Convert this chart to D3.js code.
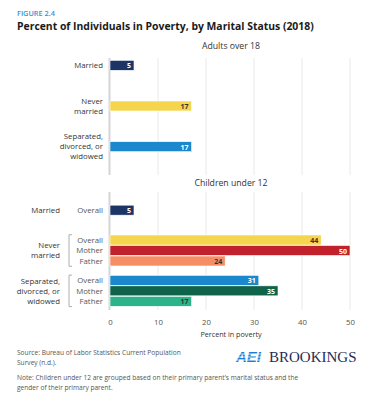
<!DOCTYPE html>
<html lang="en">
<head>
<meta charset="UTF-8">
<title>Percent of Individuals in Poverty, by Marital Status (2018)</title>
<script src="https://cdn.jsdelivr.net/npm/d3@7"></script>
<style>
    body { margin: 0; background: #fff; }
    svg text { font-family: "Open Sans", "Liberation Sans", sans-serif; }
</style>
</head>
<body>
<div id="chart"></div>
<script>
    // data
    const adultCategories = ["Married", "Never married", "Separated, divorced, or widowed"]
    const adultValues = [5, 17, 17]
    const adultColors = ["#1c3565", "#f5d54e", "#1b87cc"]

    const childCategories = ["Married", "Never married", "Separated, divorced, or widowed"]
    const childSubgroups = [["Overall"], ["Overall", "Mother", "Father"], ["Overall", "Mother", "Father"]]
    const childValues = [[5], [44, 50, 24], [31, 35, 17]]
    const childColors = [["#1c3565"], ["#f5d54e", "#c1212b", "#f68e65"], ["#1b87cc", "#0f634a", "#2db38a"]]

    // label lines for categories
    const categoryLines = {
        "Married": ["Married"],
        "Never married": ["Never", "married"],
        "Separated, divorced, or widowed": ["Separated,", "divorced, or", "widowed"]
    }
    const darkLabelColors = ["#f5d54e", "#f68e65", "#2db38a"]

    const xTicks = [0, 10, 20, 30, 40, 50]

    const width = 371, height = 400

    const svg = d3.select("#chart").append("svg")
        .attr("width", width)
        .attr("height", height)

    const x = d3.scaleLinear().domain([0, 50]).range([110, 350])

    // header
    svg.append("text").attr("x", 17).attr("y", 16)
        .attr("font-size", 7.3).attr("fill", "#3a8fd8").attr("font-weight", 600)
        .text("FIGURE 2.4")
    svg.append("text").attr("x", 17).attr("y", 29.5)
        .attr("font-size", 10.4).attr("font-weight", 700).attr("fill", "#1a1a1a")
        .text("Percent of Individuals in Poverty, by Marital Status (2018)")

    const rowStep = 10.5, barH = 9

    function drawGrid(y0, y1) {
        const g = svg.append("g")
        g.selectAll("line.grid").data(xTicks.slice(1)).join("line")
            .attr("x1", d => x(d)).attr("x2", d => x(d))
            .attr("y1", y0).attr("y2", y1)
            .attr("stroke", "#ebe9e2").attr("stroke-width", 1)
        g.append("line")
            .attr("x1", x(0) - 0.5).attr("x2", x(0) - 0.5)
            .attr("y1", y0).attr("y2", y1)
            .attr("stroke", "#d4d4d4").attr("stroke-width", 2)
    }

    function barLabel(g, v, yc, color) {
        g.append("text")
            .attr("x", x(v) - 3).attr("y", yc + 3)
            .attr("text-anchor", "end")
            .attr("font-size", 7).attr("font-weight", 700)
            .attr("fill", darkLabelColors.includes(color) ? "#333" : "#fff")
            .text(v)
    }

    // adults panel
    drawGrid(58, 175)
    svg.append("text").attr("x", 231).attr("y", 49)
        .attr("text-anchor", "middle").attr("font-size", 8.7).attr("fill", "#333")
        .text("Adults over 18")

    const yA = d3.scaleBand().domain(adultCategories).range([45, 167])

    const gA = svg.append("g")
    adultCategories.forEach((c, i) => {
        const yc = yA(c) + yA.bandwidth() / 2
        gA.append("rect")
            .attr("x", x(0)).attr("y", yc - barH / 2 - 0.5)
            .attr("width", x(adultValues[i]) - x(0)).attr("height", barH + 1)
            .attr("fill", adultColors[i])
            .attr("stroke", "#fff").attr("stroke-width", 0.6)
        barLabel(gA, adultValues[i], yc, adultColors[i])
        const lines = categoryLines[c]
        lines.forEach((t, j) => {
            gA.append("text")
                .attr("x", 103).attr("y", yc + 2.7 + (j - (lines.length - 1) / 2) * 10)
                .attr("text-anchor", "end").attr("font-size", 7.8).attr("fill", "#333")
                .text(t)
        })
    })

    // children panel
    drawGrid(192, 310)
    svg.append("text").attr("x", 231).attr("y", 186)
        .attr("text-anchor", "middle").attr("font-size", 8.7).attr("fill", "#333")
        .text("Children under 12")

    const yC = d3.scaleBand().domain(childCategories).range([190, 311])

    const gC = svg.append("g")
    childCategories.forEach((c, i) => {
        const center = yC(c) + yC.bandwidth() / 2
        const subs = childSubgroups[i]
        subs.forEach((s, k) => {
            const yc = center + (k - (subs.length - 1) / 2) * rowStep
            gC.append("rect")
                .attr("x", x(0)).attr("y", yc - barH / 2 - 0.5)
                .attr("width", x(childValues[i][k]) - x(0)).attr("height", barH + 1)
                .attr("fill", childColors[i][k])
                .attr("stroke", "#fff").attr("stroke-width", 0.6)
            barLabel(gC, childValues[i][k], yc, childColors[i][k])
            gC.append("text")
                .attr("x", 103).attr("y", yc + 2.7)
                .attr("text-anchor", "end").attr("font-size", 7.8).attr("fill", "#555")
                .text(s)
        })
        const lines = categoryLines[c]
        lines.forEach((t, j) => {
            gC.append("text")
                .attr("x", 60).attr("y", center + 2.7 + (j - (lines.length - 1) / 2) * 10)
                .attr("text-anchor", "end").attr("font-size", 7.8).attr("fill", "#333")
                .text(t)
        })
        if (subs.length > 1) {
            const top = center - rowStep * 1.5, bot = center + rowStep * 1.5
            gC.append("path")
                .attr("d", `M72,${top} H69 V${bot} H72`)
                .attr("fill", "none").attr("stroke", "#9a9a9a").attr("stroke-width", 0.8)
        }
    })

    // x axis
    const axis = svg.append("g").attr("transform", "translate(0,310)")
        .call(d3.axisBottom(x).tickValues(xTicks).tickSize(0).tickPadding(9))
    axis.select(".domain").remove()
    axis.selectAll("text").attr("font-size", 7.8).attr("fill", "#555")
        .attr("font-family", "'Open Sans', sans-serif")

    svg.append("text").attr("x", 231).attr("y", 337)
        .attr("text-anchor", "middle").attr("font-size", 7.2).attr("fill", "#333")
        .text("Percent in poverty")

    // footer
    const foot = [
        ["Source: Bureau of Labor Statistics Current Population", 355],
        ["Survey (n.d.).", 365],
        ["Note: Children under 12 are grouped based on their primary parent\u2019s marital status and the", 380],
        ["gender of their primary parent.", 390]
    ]
    svg.selectAll("text.foot").data(foot).join("text")
        .attr("class", "foot")
        .attr("x", 17).attr("y", d => d[1])
        .attr("font-size", 6.6).attr("fill", "#555")
        .text(d => d[0])

    // logo
    const logo = svg.append("g").attr("transform", "translate(236,362)")
    logo.append("text").attr("x", 0).attr("y", 0)
        .attr("font-size", 15).attr("font-weight", 700).attr("font-style", "italic")
        .attr("fill", "#1a7fd4")
        .style("font-family", "'Liberation Sans', sans-serif")
        .text("AEI")
    ;[-8, -5, -2].forEach(dy => {
        logo.append("line").attr("x1", -2).attr("x2", 32).attr("y1", dy).attr("y2", dy)
            .attr("stroke", "#fff").attr("stroke-width", 0.8)
    })
    logo.append("text").attr("x", 33).attr("y", 0)
        .attr("font-size", 15).attr("fill", "#1f2d55")
        .style("font-family", "'Liberation Serif', 'DejaVu Serif', serif")
        .text("BROOKINGS")
</script>
</body>
</html>
